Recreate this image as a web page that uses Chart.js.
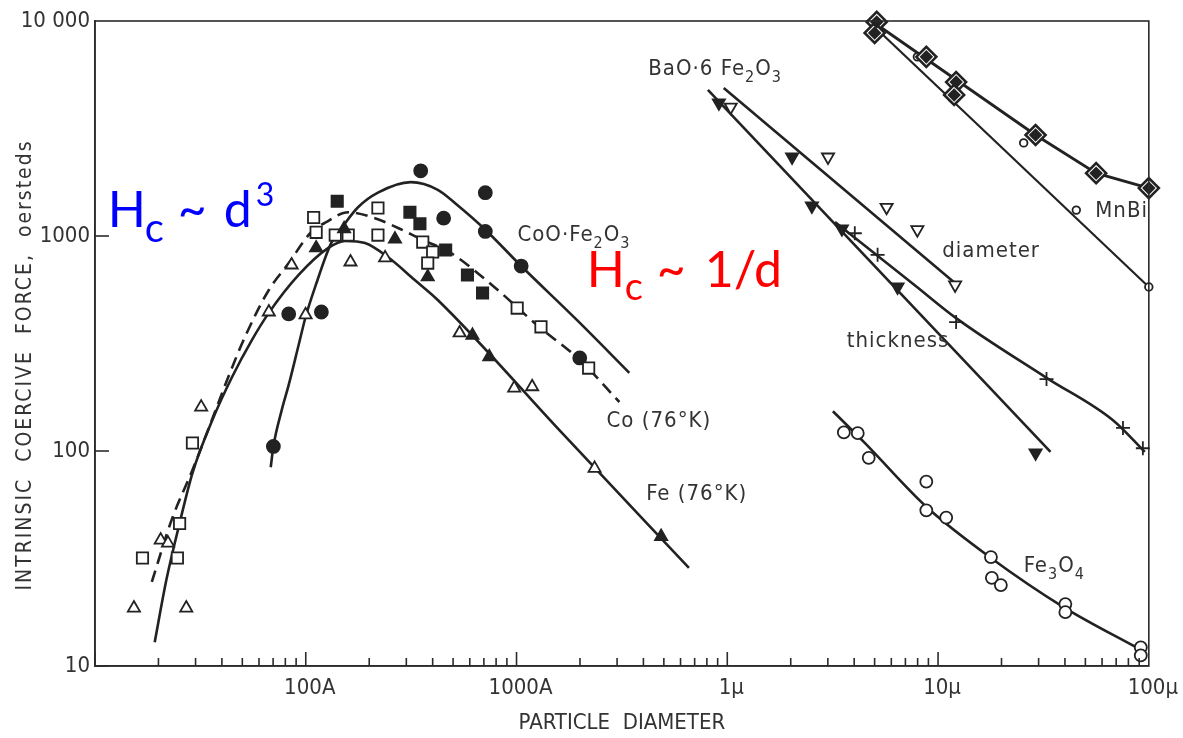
<!DOCTYPE html>
<html>
<head>
<meta charset="utf-8">
<script src="https://cdn.jsdelivr.net/npm/chart.js@4.4.0/dist/chart.umd.min.js"></script>
<style>
  html, body { margin: 0; padding: 0; background: #fff; }
  #wrap { width: 1183px; height: 738px; }
</style>
</head>
<body>
<div id="wrap"><canvas id="myChart" width="1183" height="738"></canvas></div>
<script>
// particle diameter in angstrom, coercive force in oersteds
const xTickValues = [100, 1000, 10000, 100000, 1000000];
const xTickLabels = ['100A', '1000A', '1µ', '10µ', '100µ'];
const yTickValues = [10, 100, 1000, 10000];
const yTickLabels = ['10', '100', '1000', '10 000'];

// Fe (76 K) : open and filled triangles + fitted curve
const feOpenX = [15.3, 27.1, 20.5, 22.2, 31.9, 66.8, 99.8, 85.7, 163, 238, 537, 975, 1186, 2346];
const feOpenY = [18.6, 18.6, 38.5, 37.3, 160, 443, 430, 733, 757, 791, 354, 196, 199, 83];
const feFilledX = [112, 152, 265, 379, 618, 743, 4853];
const feFilledY = [880, 1080, 967, 645, 345, 274, 40];
const feCurveX = [19.2, 21.8, 25.2, 29.0, 36.0, 44.7, 55.5, 66.8, 92.5, 128, 154, 191, 245, 329, 423, 1660, 6577];
const feCurveY = [12.9, 25.1, 46.2, 79, 139, 221, 328, 439, 659, 880, 948, 927, 798, 624, 504, 120, 28.6];

// Co (76 K) : squares + dashed curve
const coOpenX = [16.8, 24.6, 25.2, 29.0, 109, 112, 138, 159, 220, 220, 359, 400, 379, 1007, 1306, 2199];
const coOpenY = [31.8, 31.8, 46, 109, 1220, 1040, 1010, 1010, 1350, 1010, 937, 843, 748, 462, 378, 243];
const coFilledX = [141, 312, 348, 461, 585, 690];
const coFilledY = [1450, 1290, 1140, 861, 659, 543];
const coCurveX = [18.6, 23.1, 29.0, 34.8, 43.3, 52.0, 66.8, 83.0, 105, 125, 159, 213, 274, 359, 487, 784, 1251, 1995, 3076];
const coCurveY = [24.6, 47.8, 81.6, 129, 226, 347, 561, 748, 1030, 1160, 1290, 1210, 1090, 958, 834, 579, 385, 265, 169];

// CoO.Fe2O3 : filled circles + curve
const cooX = [70.2, 83.0, 118.6, 351, 451, 711, 711, 1052, 1995];
const cooY = [105, 434, 443, 2010, 1210, 1590, 1050, 725, 271];
const cooCurveX = [68.2, 70.2, 76.9, 83.0, 92.5, 99.8, 112, 132, 151, 177, 220, 315, 423, 525, 711, 1052, 1932, 3428];
const cooCurveY = [84, 105, 155, 203, 311, 420, 598, 927, 1120, 1360, 1590, 1780, 1640, 1390, 1070, 725, 407, 231];

// BaO.6Fe2O3 : thickness, diameter, crosses
const baoThickX = [9120, 20300, 25200, 34990, 64240, 290200];
const baoThickY = [4160, 2330, 1380, 1080, 579, 98];
const baoThickLineX = [8090, 341600];
const baoThickLineY = [4780, 99];
const baoDiamX = [10380, 30060, 57000, 79760, 120500];
const baoDiamY = [3980, 2330, 1360, 1070, 592];
const baoDiamLineX = [9620, 121800];
const baoDiamLineY = [4880, 598];
const plusX = [40270, 51650, 121800, 327000, 754000, 937000];
const plusY = [1030, 817, 398, 216, 128, 103];
const plusLineX = [32430, 77270, 121800, 327000, 676000, 957000];
const plusLineY = [1160, 592, 415, 219, 139, 99];

// MnBi
const mnbiDiamondX = [51170, 50030, 87960, 121800, 119200, 290200, 562300, 1000000];
const mnbiDiamondY = [9900, 8800, 6810, 5200, 4530, 2950, 1960, 1670];
const mnbiUpperX = [48420, 290200, 562300, 1000000];
const mnbiUpperY = [10000, 2950, 1960, 1670];
const mnbiCircleX = [79760, 116700, 254800, 452800, 1000000];
const mnbiCircleY = [6810, 4380, 2710, 1320, 579];
const mnbiLowerX = [50030, 1000000];
const mnbiLowerY = [9380, 579];

// Fe3O4
const fe3o4X = [35730, 41590, 46880, 87960, 87960, 109300, 178200, 180000, 198600, 401800, 401800, 916000, 916000];
const fe3o4Y = [122, 121, 93, 72, 53, 49, 32.1, 25.7, 23.8, 19.4, 17.8, 12.2, 11.2];
const fe3o4CurveX = [31700, 44900, 87960, 178200, 393500, 916000];
const fe3o4CurveY = [153, 109, 55, 31.8, 18.8, 11.9];

// curve labels, anchored at (diameter, Oe) of the text baseline start
const curveLabels = [
  { parts: [['CoO·Fe'], ['2', 'sub'], ['O'], ['3', 'sub']], x: 1010, y: 949 },
  { parts: [['Co (76°K)']], x: 2673, y: 129 },
  { parts: [['Fe (76°K)']], x: 4121, y: 59.2 },
  { parts: [['BaO·6 Fe'], ['2', 'sub'], ['O'], ['3', 'sub']], x: 4218, y: 5610 },
  { parts: [['diameter']], x: 104700, y: 798 },
  { parts: [['thickness']], x: 36900, y: 305 },
  { parts: [['MnBi']], x: 557000, y: 1225 },
  { parts: [['Fe'], ['3', 'sub'], ['O'], ['4', 'sub']], x: 254700, y: 27.4 }
];

// coloured notes: [text, dx, dy, size]
const notes = [
  { color: '#0000ff', x: 11.5, y: 1100, parts: [['H', 0, 0, 50], ['c', 37, 15, 40], ['~', 70, 0, 50], ['d', 116, 0, 50], ['3', 148, -21, 32]] },
  { color: '#ff0000', x: 2153, y: 580, parts: [['H', 0, 0, 50], ['c', 38, 13, 38], ['~', 70, 0, 50], ['1/d', 118, 0, 50]] }
];

const yTitle = 'INTRINSIC  COERCIVE  FORCE,  oersteds';

const INK = '#222';
const FONT = "'Liberation Sans Narrow', 'DejaVu Sans Condensed', 'Liberation Sans', sans-serif";

function pts(xs, ys) {
  return xs.map(function (x, i) { return { x: x, y: ys[i] }; });
}

function curve(xs, ys, extra) {
  return Object.assign({
    data: pts(xs, ys), showLine: true, pointRadius: 0, borderColor: INK,
    borderWidth: 2.6, tension: 0.4, cubicInterpolationMode: 'monotone', order: 1
  }, extra || {});
}

function marks(xs, ys, style, fill, radius, extra) {
  return Object.assign({
    data: pts(xs, ys), showLine: false, pointStyle: style, pointRadius: radius,
    pointBackgroundColor: fill, pointBorderColor: INK, pointBorderWidth: 1.8, order: 0
  }, extra || {});
}

const frameAndText = {
  id: 'frameAndText',
  afterDraw(chart) {
    const c = chart.ctx;
    const a = chart.chartArea;
    const sx = chart.scales.x;
    const sy = chart.scales.y;
    c.save();
    c.strokeStyle = '#2b2b2b';
    c.lineWidth = 1.6;
    c.strokeRect(a.left, a.top, a.right - a.left, a.bottom - a.top);

    // inward tick marks
    for (let e = 1; e < 6; e++) {
      for (let m = 1; m < 10; m++) {
        const px = sx.getPixelForValue(m * Math.pow(10, e));
        const len = m === 1 ? 14 : 8;
        c.beginPath();
        c.moveTo(px, a.bottom);
        c.lineTo(px, a.bottom - len);
        c.stroke();
      }
    }
    [10, 100, 1000].forEach(function (v) {
      const py = sy.getPixelForValue(v);
      c.beginPath();
      c.moveTo(a.left, py);
      c.lineTo(a.left + 14, py);
      c.stroke();
    });

    // y axis title
    c.fillStyle = '#333';
    c.save();
    c.translate(26, 365);
    c.rotate(-Math.PI / 2);
    c.textAlign = 'center';
    c.textBaseline = 'middle';
    c.font = '21px ' + FONT;
    c.letterSpacing = '2px';
    c.fillText(yTitle, 0, 0);
    c.restore();

    // curve labels
    c.textBaseline = 'alphabetic';
    c.textAlign = 'left';
    c.letterSpacing = '1px';
    curveLabels.forEach(function (l) {
      let cx = sx.getPixelForValue(l.x);
      const cy = sy.getPixelForValue(l.y);
      l.parts.forEach(function (p) {
        const sub = p[1] === 'sub';
        c.font = (sub ? 16 : 22) + 'px ' + FONT;
        c.fillText(p[0], cx, cy + (sub ? 7 : 0));
        cx += c.measureText(p[0]).width;
      });
    });
    c.letterSpacing = '0px';

    // coloured notes
    notes.forEach(function (n) {
      const nx = sx.getPixelForValue(n.x);
      const ny = sy.getPixelForValue(n.y);
      c.fillStyle = n.color;
      n.parts.forEach(function (p) {
        c.font = p[3] + "px Lato, 'Open Sans', sans-serif";
        c.fillText(p[0], nx + p[1], ny + p[2]);
      });
    });
    c.restore();
  }
};

const canvas = document.getElementById('myChart');
Chart.defaults.font.family = FONT;
Chart.defaults.color = '#333';

new Chart(canvas, {
  type: 'scatter',
  data: {
    datasets: [
      curve(feCurveX, feCurveY),
      curve(coCurveX, coCurveY, { borderDash: [12, 7] }),
      curve(cooCurveX, cooCurveY),
      curve(baoThickLineX, baoThickLineY, { tension: 0 }),
      curve(baoDiamLineX, baoDiamLineY, { tension: 0 }),
      curve(plusLineX, plusLineY),
      curve(mnbiUpperX, mnbiUpperY, { tension: 0, cubicInterpolationMode: 'default', borderWidth: 2.8 }),
      curve(mnbiLowerX, mnbiLowerY, { tension: 0, borderWidth: 2.2 }),
      curve(fe3o4CurveX, fe3o4CurveY),

      marks(feOpenX, feOpenY, 'triangle', '#fff', 7),
      marks(feFilledX, feFilledY, 'triangle', INK, 7),
      marks(coOpenX, coOpenY, 'rect', '#fff', 8),
      marks(coFilledX, coFilledY, 'rect', INK, 8),
      marks(cooX, cooY, 'circle', INK, 6.5),
      marks(baoDiamX, baoDiamY, 'triangle', '#fff', 7, { pointRotation: 180 }),
      marks(baoThickX, baoThickY, 'triangle', INK, 7, { pointRotation: 180 }),
      marks(plusX, plusY, 'cross', INK, 7),
      marks(mnbiDiamondX, mnbiDiamondY, 'rectRot', '#fff', 10, { pointBorderWidth: 2.6 }),
      // dark core of the MnBi diamonds, drawn above the white outline marks
      marks(mnbiDiamondX, mnbiDiamondY, 'rectRot', INK, 5.5, { order: -1 }),
      marks(mnbiCircleX, mnbiCircleY, 'circle', '#fff', 3.8),
      marks(fe3o4X, fe3o4Y, 'circle', '#fff', 6)
    ]
  },
  options: {
    responsive: false,
    devicePixelRatio: 1,
    animation: false,
    clip: false,
    layout: { padding: { left: 0, right: 26, top: 21, bottom: 0 } },
    plugins: {
      legend: { display: false },
      tooltip: { enabled: false }
    },
    scales: {
      x: {
        type: 'logarithmic',
        min: 10,
        max: 1000000,
        grid: { display: false, drawTicks: false },
        border: { display: true, color: '#2b2b2b', width: 1.6 },
        afterBuildTicks: function (scale) {
          scale.ticks = xTickValues.map(function (v) { return { value: v }; });
        },
        afterFit: function (scale) { scale.height = 72; },
        ticks: {
          autoSkip: false,
          maxRotation: 0,
          padding: 9,
          labelOffset: 4,
          font: { size: 22 },
          color: '#333',
          callback: function (v, i) { return xTickLabels[i]; }
        },
        title: {
          display: true,
          text: 'PARTICLE  DIAMETER',
          font: { size: 22 },
          color: '#333',
          padding: { top: 0, bottom: 2 }
        }
      },
      y: {
        type: 'logarithmic',
        min: 10,
        max: 10000,
        grid: { display: false, drawTicks: false },
        border: { display: true, color: '#2b2b2b', width: 1.6 },
        afterBuildTicks: function (scale) {
          scale.ticks = yTickValues.map(function (v) { return { value: v }; });
        },
        afterFit: function (scale) { scale.width = 95; },
        ticks: {
          autoSkip: false,
          padding: 5,
          font: { size: 22 },
          color: '#333',
          callback: function (v, i) { return yTickLabels[i]; }
        },
        title: { display: false }
      }
    }
  },
  plugins: [frameAndText]
});
</script>
</body>
</html>
